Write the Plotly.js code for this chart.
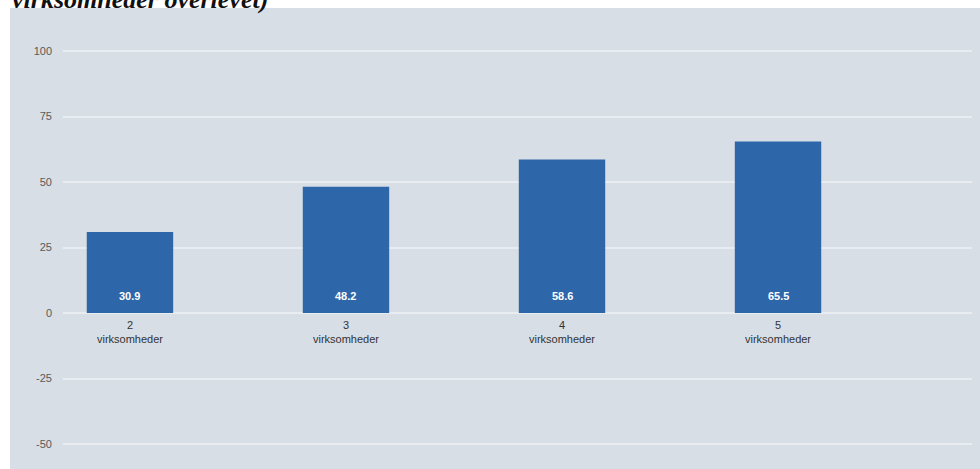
<!DOCTYPE html>
<html>
<head>
<meta charset="utf-8">
<script src="https://cdn.plot.ly/plotly-3.0.1.min.js"></script>
<style>
html,body{margin:0;padding:0;background:#fff;}
#chart{width:980px;height:469px;}
</style>
</head>
<body>
<div id="chart"></div>
<script>
const categories = ["2<br>virksomheder", "3<br>virksomheder", "4<br>virksomheder", "5<br>virksomheder"];
const values = [30.9, 48.2, 58.6, 65.5];
const valueLabels = ["30.9", "48.2", "58.6", "65.5"];
const yTicks = [-50, -25, 0, 25, 50, 75, 100];
const titleText = "virksomheder overlevet)";

const trace = {
  type: "bar",
  x: categories,
  y: values,
  marker: {color: "#2e66aa"},
  width: 0.4,
  hoverinfo: "skip"
};

const valueAnnotations = categories.map((c, i) => ({
  x: c, y: 0, xref: "x", yref: "y",
  text: valueLabels[i],
  showarrow: false,
  yanchor: "bottom",
  yshift: 9,
  font: {family: "Liberation Sans, Arial, sans-serif", size: 11, color: "#ffffff", weight: "bold"}
}));

const titleAnnotation = {
  xref: "paper", yref: "paper",
  x: (10 - 63) / 909, xanchor: "left",
  y: 1, yanchor: "bottom", yshift: -8,
  text: titleText,
  showarrow: false,
  font: {family: "Liberation Serif, Times New Roman, serif", size: 26, color: "#111111", weight: "bold", style: "italic"}
};

const layout = {
  width: 980,
  height: 469,
  margin: {l: 63, r: 8, t: 8, b: 0, pad: 0},
  paper_bgcolor: "#ffffff",
  plot_bgcolor: "rgba(0,0,0,0)",
  showlegend: false,
  xaxis: {
    type: "category",
    range: [-0.31, 3.898],
    anchor: "free",
    position: (469 - 313) / 461,
    showgrid: false,
    zeroline: false,
    showline: false,
    ticks: "",
    ticklabelstandoff: 4,
    tickfont: {family: "Liberation Sans, Arial, sans-serif", size: 11, color: "#333333"},
    fixedrange: true
  },
  yaxis: {
    range: [-59.5, 116.4],
    tickvals: yTicks,
    ticktext: yTicks.map(String),
    showgrid: true,
    gridcolor: "#e9edf2",
    gridwidth: 2,
    zeroline: true,
    zerolinecolor: "#e9edf2",
    zerolinewidth: 2,
    showline: false,
    ticks: "",
    ticklabelstandoff: 10,
    tickfont: {family: "Liberation Sans, Arial, sans-serif", size: 11, color: "#5a5a5a"},
    fixedrange: true
  },
  annotations: [titleAnnotation].concat(valueAnnotations),
  shapes: [{
    type: "rect", layer: "below",
    xref: "paper", yref: "paper",
    x0: (10 - 63) / 909, x1: (980 - 63) / 909 + 0.01,
    y0: -0.02, y1: 1,
    fillcolor: "#d7dee5", line: {width: 0}
  }]
};

Plotly.newPlot("chart", [trace], layout, {displayModeBar: false, staticPlot: true});
</script>
</body>
</html>
